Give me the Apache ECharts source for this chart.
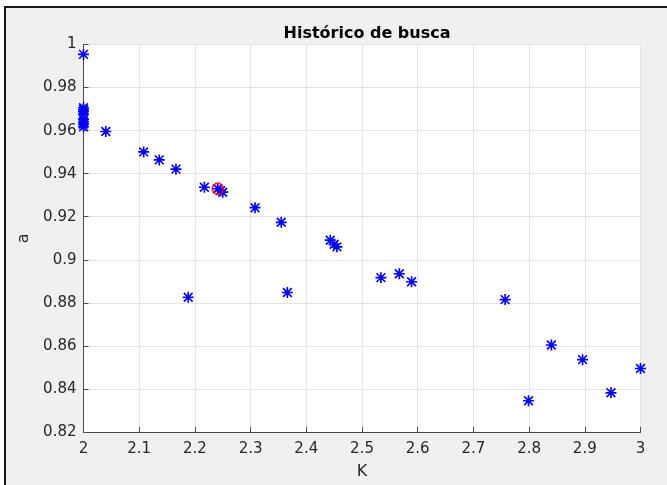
<!DOCTYPE html>
<html>
<head>
<meta charset="utf-8">
<script src="https://cdn.jsdelivr.net/npm/echarts@6/dist/echarts.min.js"></script>
<style>html,body{margin:0;padding:0;background:#fff}#c{width:667px;height:485px}</style>
</head>
<body>
<div id="c"></div>
<script>
// Search history (K, a)
const kValues = [2.0, 2.0, 2.0, 2.0, 2.0, 2.0, 2.0, 2.0, 2.0, 2.040, 2.108, 2.136, 2.166, 2.217, 2.241, 2.246, 2.250, 2.308, 2.355, 2.188, 2.366, 2.443, 2.450, 2.455, 2.534, 2.567, 2.589, 2.757, 2.799, 2.840, 2.896, 2.947, 3.0];
const aValues = [0.9954, 0.9706, 0.9698, 0.9688, 0.9676, 0.9652, 0.9640, 0.9630, 0.9618, 0.9596, 0.9501, 0.9464, 0.9421, 0.9337, 0.9330, 0.9321, 0.9314, 0.9242, 0.9174, 0.8826, 0.8848, 0.9091, 0.9072, 0.9060, 0.8917, 0.8935, 0.8898, 0.8815, 0.8345, 0.8604, 0.8536, 0.8382, 0.8495];
const bestK = [2.241];
const bestA = [0.9330];
const titleText = 'Histórico de busca';
const xName = 'K';
const yName = 'a';

const star = 'path://M8.5,0L11.5,0L11.5,20L8.5,20Z M0,8.5L20,8.5L20,11.5L0,11.5Z M1,3.1L3.1,1L19,16.9L16.9,19Z M16.9,1L19,3.1L3.1,19L1,16.9Z';
const font = 'DejaVu Sans';

const chart = echarts.init(document.getElementById('c'), null, {renderer: 'canvas'});
chart.setOption({
  backgroundColor: '#ffffff',
  animation: false,
  graphic: {
    elements: [{
      type: 'rect', z: -100, silent: true,
      shape: {x: 5, y: 7, width: 800, height: 600},
      style: {fill: '#f0f0f0', stroke: '#1a1a1a', lineWidth: 2}
    }]
  },
  title: {
    text: titleText, left: 362, top: 21, textAlign: 'center',
    textStyle: {fontFamily: font, fontSize: 16, fontWeight: 'bold', color: '#000'}
  },
  grid: {
    left: 83.5, right: 26.5, top: 44.5, bottom: 50.5,
    show: true, backgroundColor: '#ffffff', borderWidth: 0
  },
  xAxis: {
    type: 'value', min: 2, max: 3, interval: 0.1,
    name: xName, nameLocation: 'middle', nameGap: 32,
    nameTextStyle: {fontFamily: font, fontSize: 16, color: '#262626'},
    axisLine: {show: true, lineStyle: {color: '#4a4a4a', width: 1}},
    axisTick: {show: true, inside: true, length: 5, lineStyle: {color: '#4a4a4a'}},
    axisLabel: {fontFamily: font, fontSize: 15, color: '#262626', margin: 10},
    splitLine: {show: true, lineStyle: {color: '#e3e3e3', width: 1}}
  },
  yAxis: {
    type: 'value', min: 0.82, max: 1, interval: 0.02,
    name: yName, nameLocation: 'middle', nameGap: 47,
    nameTextStyle: {fontFamily: font, fontSize: 16, color: '#262626'},
    axisLine: {show: true, lineStyle: {color: '#4a4a4a', width: 1}},
    axisTick: {show: true, inside: true, length: 5, lineStyle: {color: '#4a4a4a'}},
    axisLabel: {fontFamily: font, fontSize: 15, color: '#262626', margin: 7},
    splitLine: {show: true, lineStyle: {color: '#e3e3e3', width: 1}}
  },
  series: [
    {
      type: 'scatter', clip: false, symbol: star, symbolSize: 11,
      itemStyle: {color: '#0000ff', opacity: 1},
      data: kValues.map((k, i) => [k, aValues[i]]),
      z: 2
    },
    {
      type: 'scatter', clip: false, symbol: 'circle', symbolSize: 11,
      itemStyle: {color: 'rgba(0,0,0,0)', borderColor: '#ff0000', borderWidth: 1.8},
      data: bestK.map((k, i) => [k, bestA[i]]),
      z: 3
    }
  ]
});
</script>
</body>
</html>
